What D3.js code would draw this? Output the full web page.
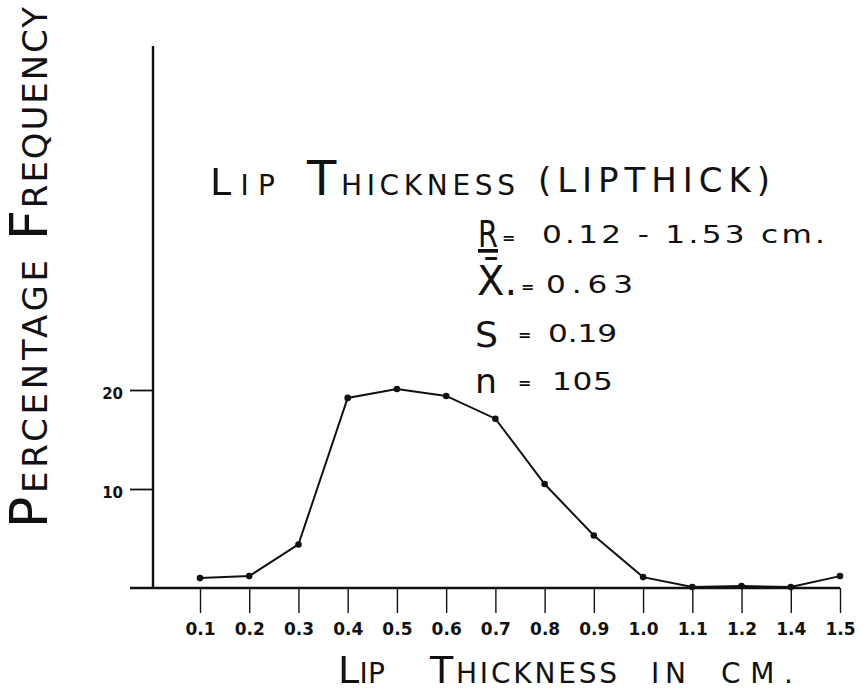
<!DOCTYPE html>
<html>
<head>
<meta charset="utf-8">
<script src="https://cdn.jsdelivr.net/npm/d3@7"></script>
<style>
  html, body { margin: 0; padding: 0; background: #fff; }
  svg { display: block; }
  text { font-family: "DejaVu Sans", "Liberation Sans", sans-serif; fill: #111; }
</style>
</head>
<body>
<script>
// ---- data ----
const categories = ["0.1","0.2","0.3","0.4","0.5","0.6","0.7","0.8","0.9","1.0","1.1","1.2","1.4","1.5"];
const percentFrequency = [1.0, 1.2, 4.4, 19.2, 20.1, 19.4, 17.1, 10.5, 5.3, 1.1, 0.1, 0.2, 0.1, 1.2];
const yTickValues = [10, 20];
const titleWords = ["LIP", "THICKNESS", "(LIPTHICK)"];
const statSymbols = ["R", "X\u0304.", "S", "n"];
const statValues = ["0.12 - 1.53 cm.", "0.63", "0.19", "105"];
const xAxisTitleWords = ["LIP", "THICKNESS", "IN", "CM."];
const yAxisTitleWords = ["PERCENTAGE", "FREQUENCY"];

const W = 867, H = 691;
const svg = d3.select("body").append("svg").attr("width", W).attr("height", H);

const x = d3.scalePoint().domain(categories).range([200, 840]);
const y = d3.scaleLinear().domain([0, 20]).range([588, 390]);
const axisX = 153, axisTop = 46;

// axes lines
svg.append("line").attr("x1", axisX).attr("x2", axisX).attr("y1", axisTop).attr("y2", y(0))
  .attr("stroke", "#111").attr("stroke-width", 2.4);
svg.append("line").attr("x1", 130).attr("x2", x(categories[categories.length-1])).attr("y1", y(0)).attr("y2", y(0))
  .attr("stroke", "#111").attr("stroke-width", 2.6);

// x axis ticks + labels
const gx = svg.append("g").attr("transform", `translate(0,${y(0)})`)
  .call(d3.axisBottom(x).tickSize(25).tickPadding(10));
gx.select(".domain").remove();
gx.selectAll(".tick line").attr("stroke", "#111").attr("stroke-width", 1.4);
gx.selectAll(".tick text").attr("font-size", 17).attr("font-weight", "bold").attr("fill", "#111")
  .style("font-family", "\"DejaVu Sans\", sans-serif");

// y axis ticks + labels
const gy = svg.append("g").attr("transform", `translate(${axisX},0)`)
  .call(d3.axisLeft(y).tickValues(yTickValues).tickSize(23).tickPadding(7));
gy.select(".domain").remove();
gy.selectAll(".tick line").attr("stroke", "#111").attr("stroke-width", 1.8);
gy.selectAll(".tick text").attr("font-size", 15).attr("font-weight", "bold").attr("fill", "#111")
  .attr("dy", "0.55em").style("font-family", "\"DejaVu Sans\", sans-serif");

// data line
const line = d3.line().x((d, i) => x(categories[i])).y(d => y(d));
svg.append("path").datum(percentFrequency).attr("d", line)
  .attr("fill", "none").attr("stroke", "#111").attr("stroke-width", 2);
svg.selectAll("circle.pt").data(percentFrequency).enter().append("circle")
  .attr("class", "pt").attr("cx", (d, i) => x(categories[i])).attr("cy", d => y(d))
  .attr("r", 3.3).attr("fill", "#111");

// helper: small-caps style word (first letter big)
function capsWord(sel, word, big, small) {
  sel.append("tspan").attr("font-size", big).text(word[0]);
  if (word.length > 1) sel.append("tspan").attr("font-size", small).text(word.slice(1));
}
// helper: horizontally stretched text spanning [x0, x1]
function stretched(x0, x1, yb, str, size, sx) {
  const g = svg.append("g").attr("transform", `translate(${x0},${yb}) scale(${sx},1)`);
  return g.append("text").attr("x", 0).attr("y", 0).attr("font-size", size)
    .attr("textLength", (x1 - x0) / sx).attr("lengthAdjust", "spacing").text(str);
}

// title
const t1 = svg.append("text").attr("x", 210).attr("y", 195).attr("textLength", 65).attr("lengthAdjust", "spacing");
capsWord(t1, titleWords[0], 38, 28);
const t2 = svg.append("text").attr("x", 307).attr("y", 195).attr("textLength", 208).attr("lengthAdjust", "spacing");
capsWord(t2, titleWords[1], 48, 28);
svg.append("text").attr("x", 538).attr("y", 192).attr("font-size", 34)
  .attr("textLength", 232).attr("lengthAdjust", "spacing").text(titleWords[2]);

// statistics
const statLayout = [
  {sx: 478, sy: 247, size: 37, w: 20, ex: 502, ey: 243, vx0: 542, vx1: 825, vy: 243},
  {sx: 477, sy: 295, size: 40, w: 0,  ex: 521, ey: 292, vx0: 546, vx1: 633, vy: 293},
  {sx: 475, sy: 347, size: 36, w: 23, ex: 518, ey: 340, vx0: 548, vx1: 617, vy: 342},
  {sx: 475, sy: 393, size: 33, w: 22, ex: 518, ey: 388, vx0: 552, vx1: 613, vy: 390}
];
statSymbols.forEach((s, i) => {
  const p = statLayout[i];
  const t = svg.append("text").attr("x", p.sx).attr("y", p.sy).attr("font-size", p.size).text(s);
  if (p.w) t.attr("textLength", p.w).attr("lengthAdjust", "spacingAndGlyphs");
  if (i === 0) t.attr("text-decoration", "underline");
  svg.append("text").attr("x", p.ex).attr("y", p.ey).attr("font-size", 16).attr("font-weight", "bold").text("=");
  stretched(p.vx0, p.vx1, p.vy, statValues[i], 24, 1.3);
});

// x axis title
const xPos = [{x: 338, len: 47}, {x: 430, len: 187}, {x: 651, len: 35}, {x: 721, len: 72}];
xAxisTitleWords.forEach((w, i) => {
  const t = svg.append("text").attr("x", xPos[i].x).attr("y", 683)
    .attr("textLength", xPos[i].len).attr("lengthAdjust", "spacing");
  if (i < 2) capsWord(t, w, 38, 28); else t.append("tspan").attr("font-size", 28).text(w);
});

// y axis title (rotated)
const yPos = [{start: 528, len: 268}, {start: 240, len: 233}];
yAxisTitleWords.forEach((w, i) => {
  const t = svg.append("text")
    .attr("transform", `translate(47,${yPos[i].start}) rotate(-90)`)
    .attr("textLength", yPos[i].len).attr("lengthAdjust", "spacing");
  capsWord(t, w, 52, 34);
});
</script>
</body>
</html>
